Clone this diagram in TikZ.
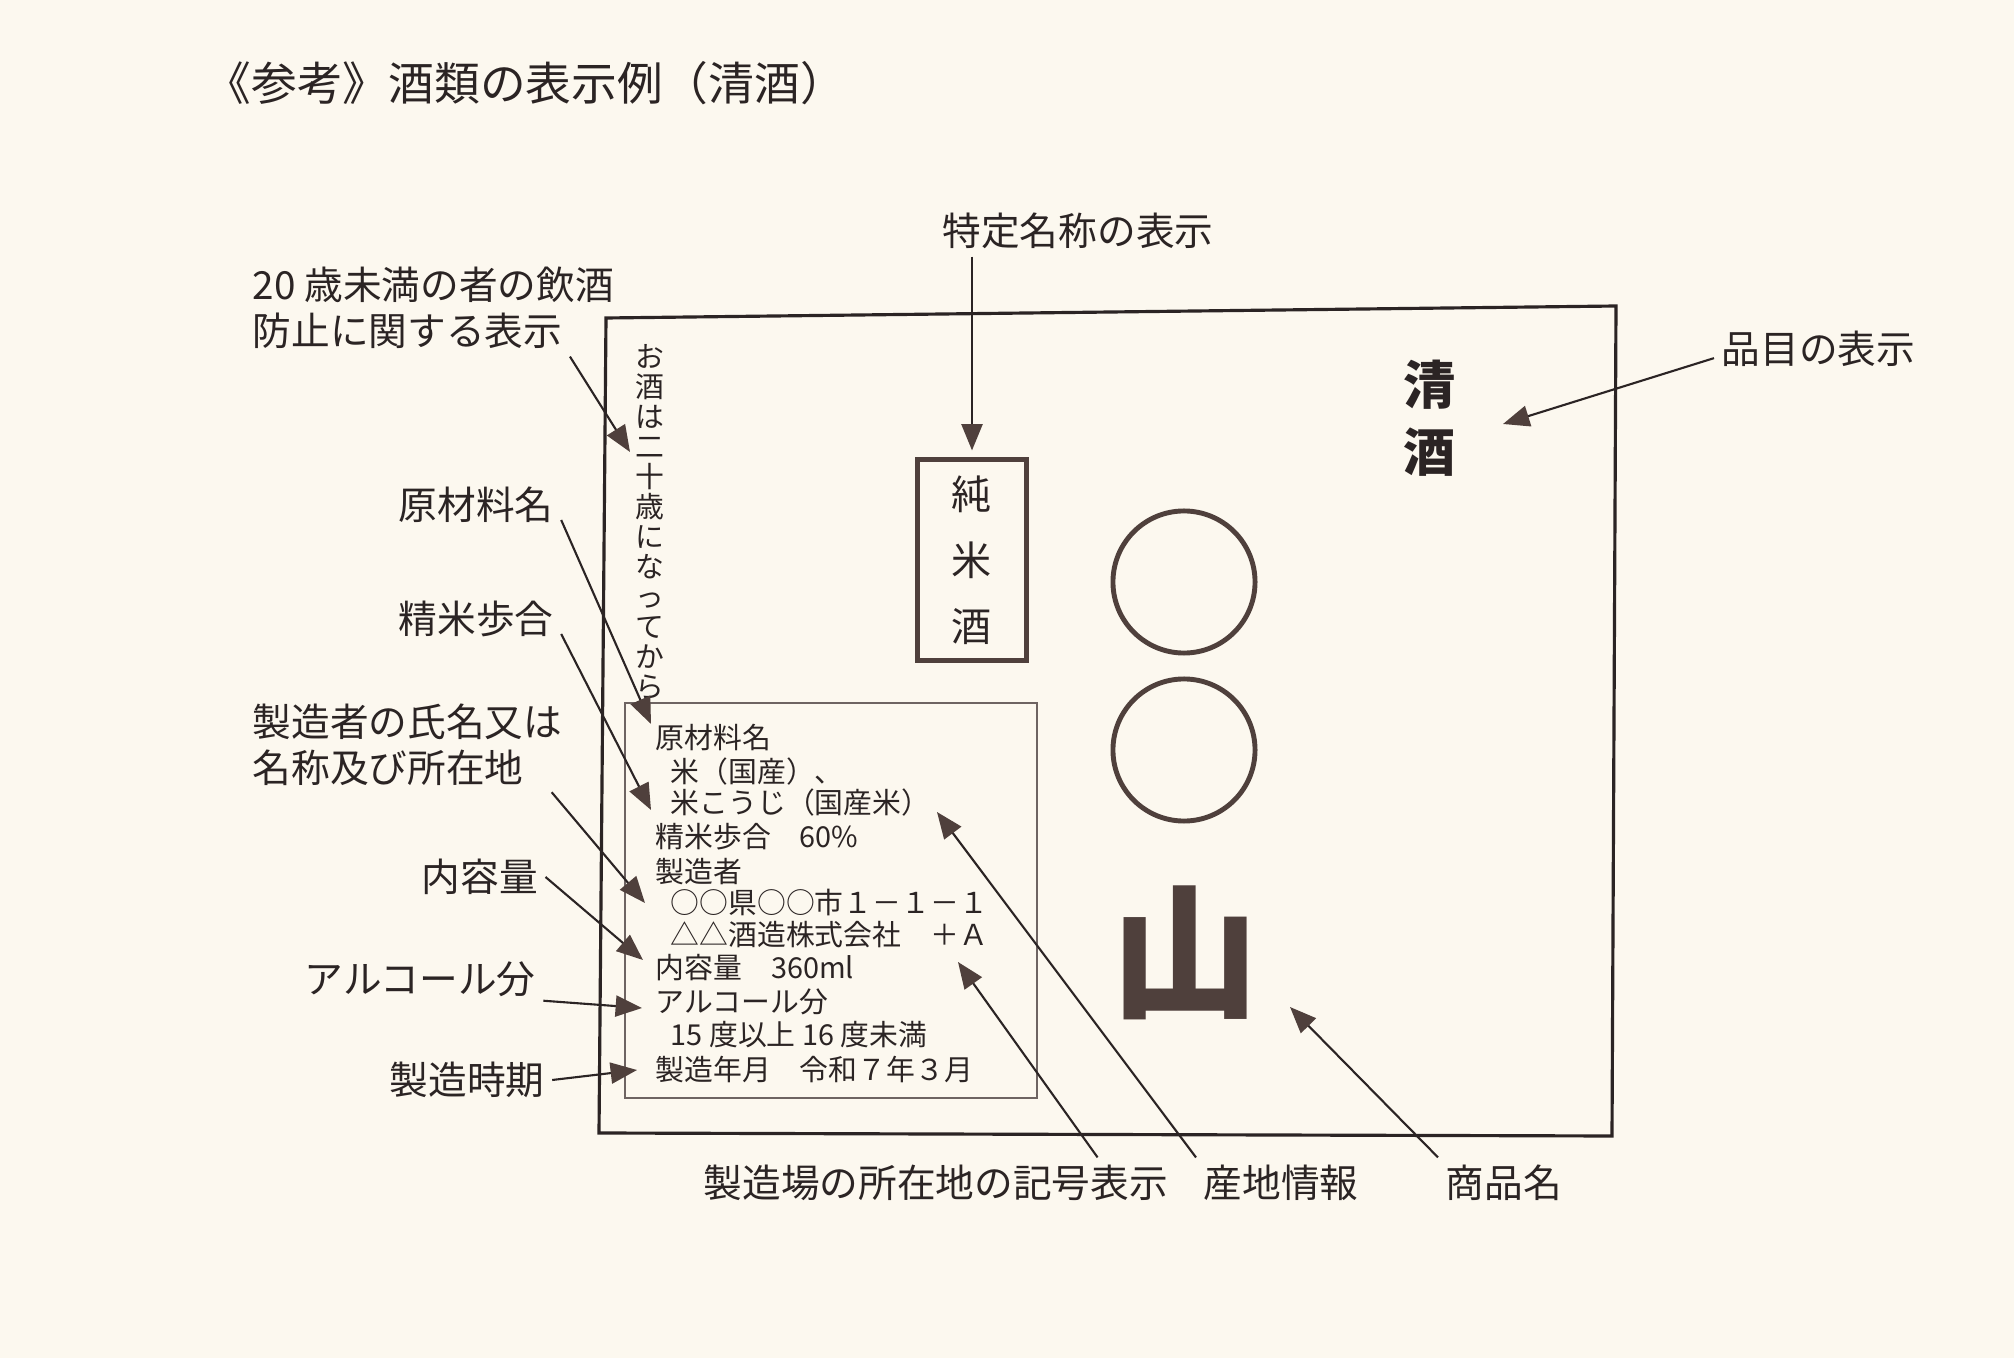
\documentclass[tikz,border=0pt]{standalone}
\usepackage{fontspec}
\setmainfont{Noto Sans CJK JP}
\usetikzlibrary{arrows.meta}
\definecolor{paper}{HTML}{FCF8EF}
\definecolor{ink}{HTML}{2B2424}
\definecolor{sepia}{HTML}{4F403C}
\definecolor{thinline}{HTML}{6E6462}

\begin{document}
\begin{tikzpicture}[x=0.01cm, y=-0.01cm,
    lbl/.style={inner sep=2pt, text=ink, font=\fontsize{11}{13}\selectfont},
    txt/.style={anchor=west, inner sep=0pt, text=ink, font=\fontsize{8.2}{9.4}\selectfont},
    lead/.style={draw=ink, line width=0.6pt, -{Triangle[length=7.5pt, width=6pt, color=sepia]}}]

    \useasboundingbox (0,0) rectangle (2014,1358);
    \fill[paper] (0,0) rectangle (2014,1358);

    % corners of the label (the photo is a little skewed)
    \coordinate (b0) at (606,318);
    \coordinate (b1) at (1616,306);
    \coordinate (b2) at (1612,1136);
    \coordinate (b3) at (599,1133);

    % arrow tips
    \coordinate (t1) at (630,452);
    \coordinate (t2) at (651,724);
    \coordinate (t3) at (651,810);
    \coordinate (t4) at (645,903);
    \coordinate (t5) at (643,960);
    \coordinate (t6) at (642,1008);
    \coordinate (t7) at (637,1070);
    \coordinate (t8) at (1503,424);
    \coordinate (t9) at (958,962);
    \coordinate (t10) at (937,812);
    \coordinate (t11) at (1290,1007);

    \draw[ink, line width=0.9pt] (b0) -- (b1) -- (b2) -- (b3) -- cycle;
    \draw[thinline, line width=0.5pt] (625,703) rectangle (1037,1098);

    \node[lbl, anchor=west, font=\fontsize{13}{15}\selectfont] (title) at (198,83) {《参考》酒類の表示例（清酒）};

    % the label itself
    \node[text=ink, inner sep=0pt, align=center, font=\fontsize{8.2}{8.55}\selectfont] (warn) at (650,522)
      {お\\酒\\は\\二\\十\\歳\\に\\な\\っ\\て\\か\\ら};
    \node[draw=sepia, line width=1.4pt, minimum width=1.09cm, minimum height=2cm, inner sep=0pt,
      align=center, text=ink, font=\fontsize{11.4}{18.8}\selectfont] (junmai) at (972,560) {純\\米\\酒};
    \node[text=ink, align=center, font=\fontsize{14.8}{19}\selectfont\bfseries] (seishu) at (1430,418) {清\\酒};
    \draw[sepia, line width=1.4pt] (1184,582) circle[radius=0.71cm];
    \draw[sepia, line width=1.4pt] (1184,750) circle[radius=0.71cm];
    \node[text=sepia, font=\fontsize{42}{44}\selectfont\bfseries] (yama) at (1185,953) {山};

    \node[txt] (l1) at (655,738) {原材料名};
    \node[txt] (l2) at (670,772) {米（国産）、};
    \node[txt] (l3) at (670,803) {米こうじ（国産米）};
    \node[txt] (l4) at (655,837) {精米歩合　60\%};
    \node[txt] (l5) at (655,872) {製造者};
    \node[txt] (l6) at (670,903) {○○県○○市１－１－１};
    \node[txt] (l7) at (670,935) {△△酒造株式会社　＋Ａ};
    \node[txt] (l8) at (655,968) {内容量　360ml};
    \node[txt] (l9) at (655,1002) {アルコール分};
    \node[txt] (l10) at (670,1035) {15 度以上 16 度未満};
    \node[txt] (l11) at (655,1070) {製造年月　令和７年３月};

    % callouts
    \node[lbl, anchor=west] (hanshu) at (245,285) {20 歳未満の者の飲酒};
    \node[lbl, anchor=west] (boushi) at (245,331) {防止に関する表示};
    \node[lbl, anchor=west] (genzai) at (391,505) {原材料名};
    \node[lbl, anchor=west] (seimai) at (391,619) {精米歩合};
    \node[lbl, anchor=west] (seizo) at (245,722) {製造者の氏名又は};
    \node[lbl, anchor=west] (meisho) at (245,768) {名称及び所在地};
    \node[lbl, anchor=west] (naiyo) at (414,877) {内容量};
    \node[lbl, anchor=west] (alc) at (297,979) {アルコール分};
    \node[lbl, anchor=west] (jiki) at (382,1080) {製造時期};
    \node[lbl] (tokutei) at (1078,231) {特定名称の表示};
    \node[lbl, anchor=west] (hinmoku) at (1714,349) {品目の表示};
    \node[lbl, anchor=west] (kigo) at (696,1183) {製造場の所在地の記号表示};
    \node[lbl, anchor=west] (sanchi) at (1196,1183) {産地情報};
    \node[lbl, anchor=west] (shohin) at (1438,1183) {商品名};

    \draw[lead] (boushi.south east) -- (t1);
    \draw[lead] (genzai.-10) -- (t2);
    \draw[lead] (seimai.-10) -- (t3);
    \draw[lead, shorten <=9pt] (meisho.east) -- (t4);
    \draw[lead] (naiyo.east) -- (t5);
    \draw[lead] (alc.-10) -- (t6);
    \draw[lead] (jiki.east) -- (t7);
    \draw[lead, shorten >=2pt] (junmai.north |- tokutei.south) -- (junmai.north);
    \draw[lead] (hinmoku.185) -- (t8);
    \draw[lead] (kigo.9) -- (t9);
    \draw[lead] (sanchi.north west) -- (t10);
    \draw[lead] (shohin.north west) -- (t11);
  \end{tikzpicture}
\end{document}
